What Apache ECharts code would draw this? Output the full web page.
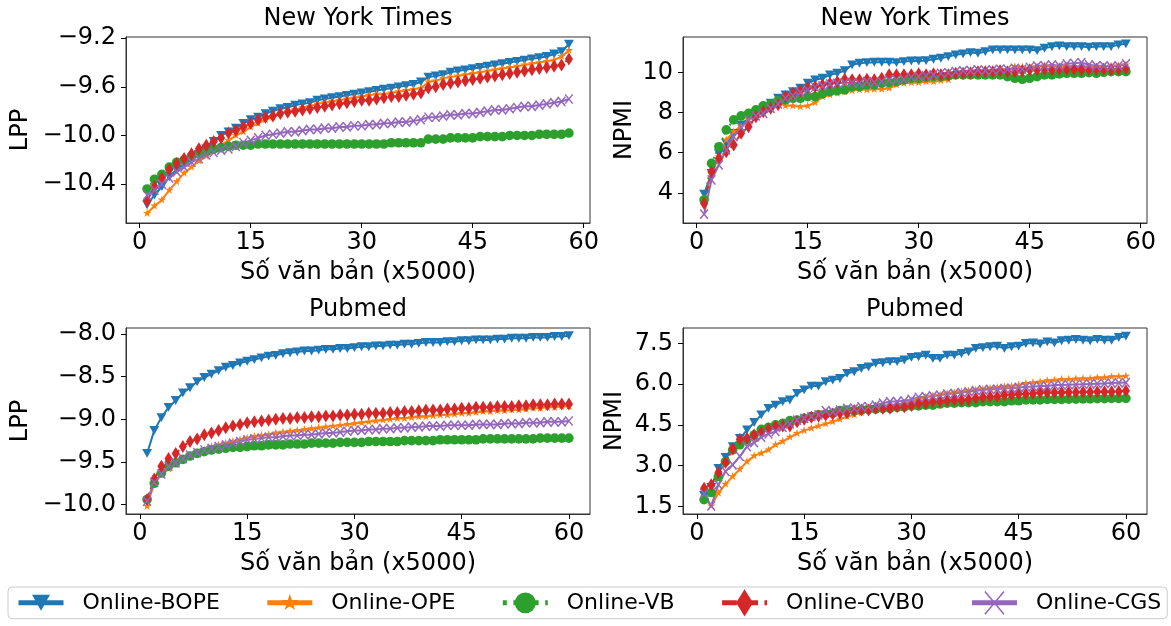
<!DOCTYPE html>
<html>
<head>
<meta charset="utf-8">
<script src="https://cdn.jsdelivr.net/npm/echarts@6/dist/echarts.min.js"></script>
<style>
  html, body { margin: 0; padding: 0; background: #fff; }
  #chart { width: 1171px; height: 626px; }
</style>
</head>
<body>
<div id="chart"></div>
<script>
// Methods compared in every panel
const methods = ['Online-BOPE', 'Online-OPE', 'Online-VB', 'Online-CVB0', 'Online-CGS'];
const colors = ['#1f77b4', '#ff7f0e', '#2ca02c', '#d62728', '#9467bd'];

// Number of processed documents (in units of 5000)
const nytDocs = [1,2,3,4,5,6,7,8,9,10,11,12,13,14,15,16,17,18,19,20,21,22,23,24,25,26,27,28,29,30,
  31,32,33,34,35,36,37,38,39,40,41,42,43,44,45,46,47,48,49,50,51,52,53,54,55,56,57,58];
const pubDocs = [1,2,3,4,5,6,7,8,9,10,11,12,13,14,15,16,17,18,19,20,21,22,23,24,25,26,27,28,29,30,
  31,32,33,34,35,36,37,38,39,40,41,42,43,44,45,46,47,48,49,50,51,52,53,54,55,56,57,58,59,60];

// Tick labels
const xTicks = [0, 15, 30, 45, 60];
const nytLppTicks = [-10.4, -10.0, -9.6, -9.2];
const nytNpmiTicks = [4, 6, 8, 10];
const pubLppTicks = [-10.0, -9.5, -9.0, -8.5, -8.0];
const pubNpmiTicks = [1.5, 3.0, 4.5, 6.0, 7.5];

// New York Times - LPP
const nytLppBope = [-10.57,-10.49,-10.42,-10.34,-10.28,-10.24,-10.20,-10.16,-10.11,-10.05,
  -10.00,-9.97,-9.94,-9.90,-9.87,-9.85,-9.82,-9.80,-9.78,-9.77,
  -9.75,-9.74,-9.73,-9.71,-9.70,-9.69,-9.68,-9.67,-9.66,-9.65,
  -9.64,-9.63,-9.62,-9.61,-9.60,-9.59,-9.58,-9.56,-9.52,-9.51,
  -9.50,-9.48,-9.47,-9.46,-9.45,-9.44,-9.43,-9.42,-9.41,-9.40,
  -9.39,-9.38,-9.37,-9.36,-9.35,-9.33,-9.31,-9.25];
const nytLppOpe = [-10.64,-10.58,-10.53,-10.45,-10.38,-10.31,-10.26,-10.21,-10.17,-10.13,
  -10.08,-10.04,-10.00,-9.97,-9.93,-9.90,-9.87,-9.85,-9.82,-9.80,
  -9.79,-9.77,-9.76,-9.74,-9.73,-9.72,-9.71,-9.70,-9.69,-9.68,
  -9.67,-9.66,-9.66,-9.65,-9.64,-9.63,-9.62,-9.61,-9.56,-9.55,
  -9.53,-9.52,-9.51,-9.50,-9.49,-9.48,-9.47,-9.46,-9.45,-9.44,
  -9.43,-9.42,-9.41,-9.40,-9.39,-9.38,-9.35,-9.30];
const nytLppVb = [-10.44,-10.36,-10.32,-10.26,-10.22,-10.20,-10.17,-10.15,-10.13,-10.11,
  -10.10,-10.09,-10.08,-10.08,-10.08,-10.07,-10.07,-10.07,-10.07,-10.07,
  -10.07,-10.07,-10.07,-10.07,-10.07,-10.07,-10.07,-10.07,-10.07,-10.07,
  -10.07,-10.07,-10.07,-10.06,-10.06,-10.06,-10.06,-10.06,-10.03,-10.03,
  -10.03,-10.02,-10.02,-10.02,-10.02,-10.01,-10.01,-10.01,-10.01,-10.00,
  -10.00,-10.00,-10.00,-9.99,-9.99,-9.99,-9.99,-9.98];
const nytLppCvb0 = [-10.54,-10.42,-10.35,-10.28,-10.23,-10.19,-10.15,-10.11,-10.08,-10.05,
  -10.02,-9.98,-9.96,-9.93,-9.90,-9.87,-9.85,-9.84,-9.82,-9.81,
  -9.80,-9.79,-9.78,-9.77,-9.76,-9.75,-9.74,-9.73,-9.72,-9.71,
  -9.71,-9.70,-9.69,-9.68,-9.68,-9.67,-9.66,-9.65,-9.61,-9.60,
  -9.58,-9.57,-9.56,-9.55,-9.54,-9.53,-9.52,-9.51,-9.50,-9.49,
  -9.48,-9.47,-9.46,-9.45,-9.44,-9.43,-9.42,-9.37];
const nytLppCgs = [-10.49,-10.45,-10.40,-10.35,-10.30,-10.26,-10.22,-10.19,-10.16,-10.14,
  -10.12,-10.11,-10.09,-10.06,-10.04,-10.02,-10.00,-9.99,-9.98,-9.97,
  -9.97,-9.96,-9.95,-9.95,-9.94,-9.94,-9.93,-9.93,-9.92,-9.92,
  -9.91,-9.91,-9.90,-9.90,-9.89,-9.89,-9.88,-9.87,-9.85,-9.85,
  -9.84,-9.83,-9.83,-9.82,-9.82,-9.81,-9.80,-9.79,-9.79,-9.78,
  -9.77,-9.76,-9.76,-9.75,-9.74,-9.73,-9.72,-9.70];

// New York Times - NPMI
const nytNpmiBope = [3.93,4.97,5.97,6.47,6.97,7.39,7.72,7.97,8.22,8.47,
  8.72,8.89,9.05,9.22,9.47,9.64,9.72,9.89,9.97,10.10,
  10.39,10.47,10.50,10.52,10.52,10.52,10.50,10.55,10.58,10.58,
  10.60,10.67,10.72,10.80,10.89,10.94,11.00,10.97,11.05,11.14,
  11.14,11.14,11.14,11.14,11.14,11.10,11.22,11.30,11.34,11.30,
  11.30,11.30,11.27,11.30,11.30,11.30,11.39,11.44];
const nytNpmiOpe = [3.55,4.97,5.80,6.64,7.05,7.30,7.64,7.89,8.14,8.39,
  8.55,8.34,8.34,8.30,8.34,8.50,8.80,8.89,8.97,9.05,
  9.10,9.14,9.14,9.17,9.17,9.22,9.39,9.47,9.50,9.50,
  9.55,9.55,9.60,9.64,9.84,9.89,9.94,9.97,10.00,10.05,
  10.05,10.10,10.30,10.27,10.22,10.27,10.34,10.30,10.30,10.34,
  10.30,10.27,10.30,10.27,10.30,10.34,10.34,10.39];
const nytNpmiVb = [3.64,5.47,6.30,7.14,7.64,7.84,7.97,8.14,8.34,8.44,
  8.60,8.64,8.72,8.72,8.80,8.80,8.94,9.05,9.10,9.14,
  9.30,9.30,9.39,9.39,9.47,9.50,9.55,9.64,9.72,9.72,
  9.77,9.80,9.80,9.84,9.89,9.89,9.89,9.89,9.89,9.89,
  9.89,9.80,9.72,9.67,9.72,9.80,9.89,9.89,9.94,9.97,
  9.97,9.97,10.00,9.97,10.02,10.05,10.05,10.05];
const nytNpmiCvb0 = [3.47,5.05,5.72,6.05,6.39,6.97,7.30,7.80,8.05,8.22,
  8.39,8.80,8.97,9.10,9.27,9.30,9.39,9.47,9.55,9.67,
  9.64,9.64,9.67,9.64,9.72,9.89,9.89,9.89,9.89,9.94,
  9.89,9.94,9.89,9.89,9.97,9.97,10.00,10.05,10.05,10.05,
  10.10,10.05,10.05,10.10,10.14,10.14,10.17,10.14,10.17,10.17,
  10.17,10.14,10.17,10.17,10.17,10.14,10.17,10.22];
const nytNpmiCgs = [2.93,4.64,5.39,6.14,6.80,7.27,7.64,7.84,7.97,8.22,
  8.44,8.72,8.84,9.00,9.14,9.27,9.34,9.44,9.47,9.50,
  9.50,9.47,9.55,9.50,9.55,9.64,9.64,9.67,9.77,9.80,
  9.84,9.89,9.97,10.00,10.05,10.10,10.10,10.14,10.10,10.14,
  10.17,10.17,10.22,10.17,10.27,10.34,10.34,10.39,10.34,10.44,
  10.47,10.50,10.39,10.34,10.34,10.30,10.34,10.44];

// Pubmed - LPP
const pubLppBope = [-9.40,-9.13,-8.98,-8.86,-8.78,-8.69,-8.63,-8.56,-8.51,-8.47,
  -8.43,-8.39,-8.37,-8.34,-8.32,-8.30,-8.28,-8.26,-8.25,-8.23,
  -8.22,-8.21,-8.20,-8.20,-8.19,-8.18,-8.18,-8.17,-8.17,-8.16,
  -8.15,-8.15,-8.14,-8.14,-8.13,-8.13,-8.12,-8.12,-8.11,-8.10,
  -8.10,-8.10,-8.09,-8.09,-8.08,-8.08,-8.07,-8.07,-8.07,-8.06,
  -8.06,-8.05,-8.05,-8.05,-8.04,-8.04,-8.04,-8.03,-8.03,-8.02];
const pubLppOpe = [-10.02,-9.75,-9.65,-9.58,-9.53,-9.48,-9.43,-9.39,-9.36,-9.32,
  -9.30,-9.28,-9.26,-9.24,-9.22,-9.20,-9.19,-9.18,-9.16,-9.15,
  -9.14,-9.13,-9.12,-9.11,-9.10,-9.09,-9.08,-9.07,-9.06,-9.05,
  -9.04,-9.03,-9.02,-9.01,-9.00,-8.99,-8.99,-8.98,-8.97,-8.97,
  -8.96,-8.95,-8.95,-8.94,-8.93,-8.93,-8.92,-8.91,-8.91,-8.90,
  -8.90,-8.89,-8.89,-8.88,-8.87,-8.87,-8.86,-8.86,-8.85,-8.85];
const pubLppVb = [-9.94,-9.75,-9.63,-9.55,-9.51,-9.47,-9.43,-9.40,-9.38,-9.36,
  -9.35,-9.34,-9.33,-9.33,-9.32,-9.31,-9.31,-9.30,-9.30,-9.30,
  -9.29,-9.29,-9.29,-9.28,-9.28,-9.28,-9.28,-9.27,-9.27,-9.27,
  -9.27,-9.26,-9.26,-9.26,-9.26,-9.26,-9.25,-9.25,-9.25,-9.25,
  -9.25,-9.24,-9.24,-9.24,-9.24,-9.24,-9.24,-9.23,-9.23,-9.23,
  -9.23,-9.23,-9.23,-9.23,-9.23,-9.22,-9.22,-9.22,-9.22,-9.22];
const pubLppCvb0 = [-9.94,-9.70,-9.55,-9.46,-9.40,-9.32,-9.26,-9.23,-9.18,-9.16,
  -9.13,-9.10,-9.08,-9.06,-9.04,-9.03,-9.02,-9.01,-9.00,-8.99,
  -8.99,-8.98,-8.98,-8.97,-8.97,-8.96,-8.96,-8.95,-8.95,-8.94,
  -8.94,-8.93,-8.93,-8.93,-8.92,-8.92,-8.91,-8.91,-8.90,-8.89,
  -8.89,-8.89,-8.88,-8.88,-8.87,-8.87,-8.86,-8.86,-8.86,-8.85,
  -8.85,-8.85,-8.84,-8.84,-8.83,-8.83,-8.83,-8.82,-8.82,-8.82];
const pubLppCgs = [-9.96,-9.74,-9.64,-9.55,-9.51,-9.46,-9.42,-9.39,-9.36,-9.34,
  -9.32,-9.30,-9.28,-9.26,-9.24,-9.23,-9.22,-9.21,-9.21,-9.20,
  -9.19,-9.19,-9.18,-9.18,-9.17,-9.16,-9.16,-9.15,-9.14,-9.13,
  -9.13,-9.12,-9.12,-9.11,-9.11,-9.10,-9.10,-9.09,-9.09,-9.08,
  -9.08,-9.08,-9.07,-9.07,-9.07,-9.07,-9.06,-9.06,-9.06,-9.06,
  -9.05,-9.05,-9.05,-9.04,-9.04,-9.04,-9.03,-9.03,-9.03,-9.02];

// Pubmed - NPMI
const pubNpmiBope = [1.90,2.20,2.90,3.30,3.70,4.00,4.32,4.59,4.87,5.11,
  5.23,5.36,5.42,5.66,5.79,5.93,5.93,6.09,6.15,6.21,
  6.40,6.46,6.58,6.64,6.77,6.79,6.83,6.83,6.89,6.99,
  7.01,7.07,6.95,6.95,7.07,7.07,7.13,7.19,7.32,7.35,
  7.38,7.40,7.32,7.38,7.40,7.50,7.52,7.48,7.56,7.52,
  7.60,7.62,7.65,7.62,7.60,7.65,7.62,7.62,7.72,7.77];
const pubNpmiOpe = [1.85,1.52,1.99,2.32,2.60,2.87,3.15,3.36,3.46,3.58,
  3.77,3.89,4.05,4.19,4.29,4.38,4.46,4.54,4.62,4.71,
  4.81,4.87,4.95,5.03,5.08,5.15,5.20,5.23,5.30,5.39,
  5.44,5.52,5.57,5.60,5.66,5.69,5.72,5.76,5.79,5.81,
  5.85,5.88,5.91,5.93,5.97,6.03,6.06,6.09,6.13,6.15,
  6.18,6.18,6.20,6.21,6.21,6.24,6.24,6.28,6.28,6.30];
const pubNpmiVb = [1.75,2.01,2.60,3.15,3.58,3.77,3.95,4.13,4.34,4.41,
  4.50,4.56,4.66,4.68,4.74,4.81,4.87,4.90,4.93,5.03,
  5.05,5.03,5.05,5.08,5.08,5.11,5.11,5.15,5.17,5.20,
  5.20,5.23,5.23,5.27,5.30,5.30,5.32,5.32,5.32,5.36,
  5.36,5.36,5.36,5.39,5.39,5.42,5.42,5.42,5.44,5.44,
  5.44,5.45,5.45,5.46,5.46,5.47,5.47,5.48,5.48,5.48];
const pubNpmiCvb0 = [2.17,2.30,2.75,3.12,3.61,3.97,4.01,4.13,4.22,4.34,
  4.44,4.46,4.46,4.62,4.71,4.78,4.83,4.87,4.90,4.93,
  4.95,5.03,5.05,5.05,5.11,5.11,5.11,5.17,5.17,5.22,
  5.30,5.30,5.36,5.36,5.39,5.42,5.42,5.44,5.48,5.52,
  5.54,5.54,5.60,5.60,5.64,5.64,5.66,5.69,5.69,5.69,
  5.69,5.70,5.70,5.71,5.71,5.72,5.72,5.72,5.73,5.76];
const pubNpmiCgs = [1.97,1.52,2.30,2.79,3.03,3.34,3.70,3.85,4.05,4.17,
  4.26,4.41,4.54,4.68,4.74,4.81,4.87,5.03,4.99,5.05,
  5.11,5.11,5.17,5.17,5.23,5.30,5.36,5.36,5.39,5.44,
  5.52,5.54,5.57,5.60,5.64,5.66,5.69,5.72,5.76,5.79,
  5.81,5.81,5.85,5.85,5.88,5.91,5.91,5.93,5.93,5.97,
  5.97,5.98,5.99,6.00,6.01,6.02,6.03,6.04,6.05,6.06];

// Marker shapes, each drawn inside a common [-1,1] box so the legend keeps their proportions
const PAD = 'M-1 -1 M1 1 ';
const markers = [
  'path://' + PAD + 'M-0.66 -0.59 L0.66 -0.59 L0 0.59 Z',
  'path://' + PAD + 'M0 -0.66 L0.149 -0.204 L0.628 -0.204 L0.24 0.078 L0.388 0.534 L0 0.252 L-0.388 0.534 L-0.24 0.078 L-0.628 -0.204 L-0.149 -0.204 Z',
  'path://' + PAD + 'M0 -0.77 A0.77 0.77 0 1 1 0 0.77 A0.77 0.77 0 1 1 0 -0.77 Z',
  'path://' + PAD + 'M0 -1 L0.62 0 L0 1 L-0.62 0 Z',
  'path://' + PAD + 'M-0.7 -0.84 L0.7 0.84 M0.7 -0.84 L-0.7 0.84'
];
const markerSizes = [15, 13.5, 12.5, 13, 11];
const lineDash = ['solid', 'solid', [2, 3.3], [7.4, 3.2], 'solid'];
const legendDash = ['solid', 'solid', [4, 6.6], [14.8, 6.4], 'solid'];

const FONT = 'DejaVu Sans';
const minus = (v, dec) => (v < 0 ? '\u2212' : '') + Math.abs(v).toFixed(dec);

const panels = [
  { title: 'New York Times', yName: 'LPP', docs: nytDocs, values: [nytLppBope, nytLppOpe, nytLppVb, nytLppCvb0, nytLppCgs],
    yTicks: nytLppTicks, dec: 1, yMin: -10.72, yMax: -9.19, xMin: -1.85, xMax: 60.85,
    left: 126, top: 37, nameGap: 93 },
  { title: 'New York Times', yName: 'NPMI', docs: nytDocs, values: [nytNpmiBope, nytNpmiOpe, nytNpmiVb, nytNpmiCvb0, nytNpmiCgs],
    yTicks: nytNpmiTicks, dec: 0, yMin: 2.49, yMax: 11.78, xMin: -1.85, xMax: 60.85,
    left: 683, top: 37, nameGap: 46 },
  { title: 'Pubmed', yName: 'LPP', docs: pubDocs, values: [pubLppBope, pubLppOpe, pubLppVb, pubLppCvb0, pubLppCgs],
    yTicks: pubLppTicks, dec: 1, yMin: -10.11, yMax: -7.93, xMin: -1.95, xMax: 62.95,
    left: 126, top: 328, nameGap: 93 },
  { title: 'Pubmed', yName: 'NPMI', docs: pubDocs, values: [pubNpmiBope, pubNpmiOpe, pubNpmiVb, pubNpmiCvb0, pubNpmiCgs],
    yTicks: pubNpmiTicks, dec: 1, yMin: 1.22, yMax: 8.07, xMin: -1.95, xMax: 62.95,
    left: 683, top: 328, nameGap: 56 }
];
const GRID_W = 464, GRID_H = 186;

const grid = [], xAxis = [], yAxis = [], title = [], series = [];
panels.forEach((p, k) => {
  grid.push({ left: p.left, top: p.top, width: GRID_W, height: GRID_H, show: true,
    borderColor: '#333', borderWidth: 1, backgroundColor: 'transparent' });
  title.push({ text: p.title, left: p.left + GRID_W / 2, top: p.top - 30, textAlign: 'center', padding: 0,
    textStyle: { fontFamily: FONT, fontSize: 24, fontWeight: 'normal', color: '#000' } });
  xAxis.push({ type: 'value', gridIndex: k, min: p.xMin, max: p.xMax,
    axisLine: { show: true, onZero: false, lineStyle: { color: '#333', width: 1 } },
    splitLine: { show: false },
    axisTick: { show: true, length: 5, customValues: xTicks, lineStyle: { color: '#000', width: 1 } },
    axisLabel: { customValues: xTicks, fontFamily: FONT, fontSize: 24, color: '#000', margin: 8 },
    name: 'Số văn bản (x5000)', nameLocation: 'middle', nameGap: 38,
    nameTextStyle: { fontFamily: FONT, fontSize: 24, color: '#000' } });
  yAxis.push({ type: 'value', gridIndex: k, min: p.yMin, max: p.yMax,
    axisLine: { show: true, onZero: false, lineStyle: { color: '#333', width: 1 } },
    splitLine: { show: false },
    axisTick: { show: true, length: 5, customValues: p.yTicks, lineStyle: { color: '#000', width: 1 } },
    axisLabel: { customValues: p.yTicks, fontFamily: FONT, fontSize: 24, color: '#000', margin: 10,
      formatter: v => minus(v, p.dec) },
    name: p.yName, nameLocation: 'middle', nameGap: p.nameGap,
    nameTextStyle: { fontFamily: FONT, fontSize: 24, color: '#000' } });
  methods.forEach((m, i) => {
    const isCross = i === 4;
    series.push({
      type: 'line', name: m, xAxisIndex: k, yAxisIndex: k,
      data: p.docs.map((d, j) => [d, p.values[i][j]]),
      symbol: markers[i], symbolSize: markerSizes[i], showSymbol: true,
      lineStyle: { color: colors[i], width: 2, type: lineDash[i] },
      itemStyle: isCross ? { color: colors[i], borderColor: colors[i], borderWidth: 1.5 }
                         : { color: colors[i], borderWidth: 0 },
      emphasis: { disabled: true },
      silent: true
    });
  });
});

const chart = echarts.init(document.getElementById('chart'), null, { renderer: 'canvas' });
chart.setOption({
  animation: false,
  backgroundColor: '#fff',
  textStyle: { fontFamily: FONT },
  title, grid, xAxis, yAxis, series,
  legend: {
    left: 8, top: 587, width: 1157, orient: 'horizontal',
    itemWidth: 45, itemHeight: 34, itemGap: 45,
    padding: [1.5, 6, 1.5, 8], borderColor: '#ccc', borderWidth: 1, borderRadius: 4,
    selectedMode: false,
    textStyle: { fontFamily: FONT, fontSize: 22, color: '#000', padding: [7, 0, 0, 14] },
    data: methods.map((m, i) => ({
      name: m,
      lineStyle: { width: 5, type: legendDash[i], color: colors[i] },
      itemStyle: i === 4 ? { color: colors[i], borderColor: colors[i], borderWidth: 1.5 }
                         : { color: colors[i], borderWidth: 0 }
    }))
  }
});
</script>
</body>
</html>
